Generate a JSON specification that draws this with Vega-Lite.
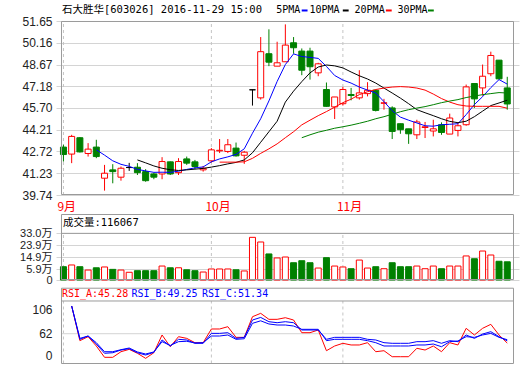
{
"$schema":"https://vega.github.io/schema/vega-lite/v6.json",
"autosize":{"type":"none"},
"padding":{"left":56,"top":21,"right":1,"bottom":1},
"width":463,"height":343,
"background":"#ffffff",
"config":{"view":{"stroke":null},"axis":{"labelFont":"Liberation Sans, Noto Sans CJK SC","labelFontSize":12,"labelColor":"#222222","domain":false,"ticks":false,"labelPadding":4,"title":null,"gridColor":"#d4d4d4","labelOverlap":false}},
"datasets":{
"k":[
{"i":1,"o":43.02,"h":43.18,"l":42.03,"c":42.51,"dir":"down","v":7.9},
{"i":2,"o":42.54,"h":43.86,"l":41.92,"c":43.75,"dir":"up","v":9.2,"ra":111.4,"rb":111.4,"rc":111.4},
{"i":3,"o":43.66,"h":43.70,"l":42.65,"c":42.69,"dir":"down","v":7.9,"ra":49.6,"rb":52.0,"rc":53.7},
{"i":4,"o":42.58,"h":43.29,"l":42.37,"c":42.88,"dir":"up","v":5.4,"ra":56.7,"rb":57.9,"rc":57.9},
{"i":5,"o":43.02,"h":43.52,"l":42.26,"c":42.37,"dir":"down","v":7.1,"m5":42.83,"ra":40.1,"rb":43.6,"rc":46.0},
{"i":6,"o":40.89,"h":41.80,"l":40.04,"c":41.23,"dir":"up","v":7.7,"m5":42.47,"ra":19.9,"rb":27.1,"rc":29.9},
{"i":7,"o":41.46,"h":41.85,"l":40.54,"c":41.34,"dir":"down","v":5.9,"m5":42.08,"ra":19.9,"rb":28.1,"rc":29.9},
{"i":8,"o":40.96,"h":41.69,"l":40.72,"c":41.57,"dir":"up","v":5.4,"m5":41.84,"ra":29.9,"rb":32.9,"rc":33.5},
{"i":9,"o":41.62,"h":41.94,"l":41.39,"c":41.62,"dir":"flat","v":3.7,"m5":41.70,"ra":34.1,"rb":35.3,"rc":36.5},
{"i":10,"o":41.64,"h":41.92,"l":41.11,"c":41.27,"dir":"down","v":4.9,"m5":41.49,"m10":42.14,"ra":27.1,"rb":28.1,"rc":29.5},
{"i":11,"o":41.34,"h":41.51,"l":40.65,"c":40.72,"dir":"down","v":4.9,"m5":41.39,"m10":41.94,"ra":18.1,"rb":24.0,"rc":25.8},
{"i":12,"o":41.18,"h":41.27,"l":40.82,"c":40.96,"dir":"down","v":4.9,"m5":41.29,"m10":41.73,"ra":28.1,"rb":28.8,"rc":29.5},
{"i":13,"o":41.18,"h":42.33,"l":40.82,"c":42.03,"dir":"up","v":8.4,"m5":41.30,"m10":41.57,"ra":59.7,"rb":50.8,"rc":47.8},
{"i":14,"o":42.01,"h":42.03,"l":41.11,"c":41.18,"dir":"down","v":7.1,"m5":41.29,"m10":41.47,"ra":38.8,"rb":40.1,"rc":41.0},
{"i":15,"o":41.27,"h":42.26,"l":41.11,"c":42.03,"dir":"up","v":7.1,"m5":41.37,"m10":41.42,"ra":56.7,"rb":52.0,"rc":47.8},
{"i":16,"o":42.21,"h":42.37,"l":41.80,"c":41.92,"dir":"down","v":5.6,"m5":41.49,"m10":41.46,"ra":53.7,"rb":50.8,"rc":48.5},
{"i":17,"o":42.01,"h":42.14,"l":41.51,"c":41.69,"dir":"down","v":4.9,"m5":41.60,"m10":41.51,"ra":46.0,"rb":44.9,"rc":45.5},
{"i":18,"o":41.46,"h":41.73,"l":41.34,"c":41.57,"dir":"up","v":3.9,"m5":41.66,"m10":41.56,"ra":46.0,"rb":44.9,"rc":46.0},
{"i":19,"o":42.08,"h":42.95,"l":41.96,"c":42.83,"dir":"up","v":6.2,"m5":42.01,"m10":41.65,"ra":70.4,"rb":62.6,"rc":57.9},
{"i":20,"o":42.76,"h":43.57,"l":42.61,"c":42.80,"dir":"up","v":6.2,"m5":42.21,"m10":41.75,"m20":41.99,"ra":70.4,"rb":62.6,"rc":57.9},
{"i":21,"o":42.72,"h":43.57,"l":42.61,"c":43.18,"dir":"up","v":6.2,"m5":42.35,"m10":41.87,"m20":41.99,"ra":74.5,"rb":63.8,"rc":59.7},
{"i":22,"o":42.95,"h":43.33,"l":42.37,"c":42.42,"dir":"down","v":5.6,"m5":42.52,"m10":41.97,"m20":41.99,"ra":55.5,"rb":53.7,"rc":52.0},
{"i":23,"o":42.46,"h":42.76,"l":41.87,"c":42.67,"dir":"up","v":4.7,"m5":42.90,"m10":42.14,"m20":42.01,"ra":55.5,"rb":55.5,"rc":53.0},
{"i":24,"o":46.94,"h":46.94,"l":45.86,"c":46.94,"dir":"flat","v":30.0,"m5":43.97,"m10":42.63,"m20":42.25,"ra":92.3,"rb":86.4,"rc":80.5},
{"i":25,"o":46.39,"h":50.55,"l":46.27,"c":49.55,"dir":"up","v":26.5,"m5":44.96,"m10":43.35,"m20":42.59,"ra":98.3,"rb":91.0,"rc":85.0},
{"i":26,"o":49.41,"h":51.08,"l":48.56,"c":48.83,"dir":"down","v":17.5,"m5":46.18,"m10":44.07,"m20":42.90,"ra":87.6,"rb":83.4,"rc":79.3},
{"i":27,"o":48.56,"h":50.23,"l":48.56,"c":48.79,"dir":"up","v":14.5,"m5":47.51,"m10":44.79,"m20":43.24,"ra":87.6,"rb":81.6,"rc":77.5},
{"i":28,"o":48.86,"h":51.42,"l":48.86,"c":50.00,"dir":"up","v":15.2,"m5":48.67,"m10":46.10,"m20":43.66,"ra":90.5,"rb":83.4,"rc":77.5},
{"i":29,"o":50.16,"h":50.55,"l":49.41,"c":49.82,"dir":"down","v":10.9,"m5":49.40,"m10":46.85,"m20":44.07,"ra":86.4,"rb":81.6,"rc":75.7},
{"i":30,"o":49.59,"h":49.77,"l":47.94,"c":48.28,"dir":"down","v":12.4,"m5":49.22,"m10":47.50,"m20":44.54,"m30":43.66,"ra":63.8,"rb":68.6,"rc":69.8},
{"i":31,"o":49.59,"h":49.82,"l":47.64,"c":48.52,"dir":"down","v":10.9,"m5":49.16,"m10":48.10,"m20":44.86,"m30":43.86,"ra":63.8,"rb":68.6,"rc":69.8},
{"i":32,"o":48.10,"h":48.79,"l":47.87,"c":48.72,"dir":"up","v":6.9,"m5":49.09,"m10":48.50,"m20":45.17,"m30":44.04,"ra":68.6,"rb":68.6,"rc":69.8},
{"i":33,"o":46.96,"h":47.44,"l":45.79,"c":45.81,"dir":"down","v":14.7,"m5":48.54,"m10":48.64,"m20":45.45,"m30":44.17,"ra":31.7,"rb":52.0,"rc":49.6},
{"i":34,"o":45.77,"h":46.45,"l":44.94,"c":46.45,"dir":"up","v":8.4,"m5":47.92,"m10":48.58,"m20":45.75,"m30":44.31,"ra":40.1,"rb":55.5,"rc":52.0},
{"i":35,"o":45.99,"h":47.14,"l":45.86,"c":46.96,"dir":"up","v":7.7,"m5":47.61,"m10":48.44,"m20":46.06,"m30":44.41,"ra":44.9,"rb":55.5,"rc":52.0},
{"i":36,"o":46.62,"h":47.07,"l":46.22,"c":46.55,"dir":"down","v":6.4,"m5":47.40,"m10":48.16,"m20":46.30,"m30":44.52,"ra":41.9,"rb":55.5,"rc":52.0},
{"i":37,"o":46.39,"h":48.28,"l":46.27,"c":46.73,"dir":"up","v":12.9,"m5":47.13,"m10":47.90,"m20":46.61,"m30":44.65,"ra":41.9,"rb":55.5,"rc":52.0},
{"i":38,"o":46.68,"h":47.46,"l":46.49,"c":46.91,"dir":"up","v":6.9,"m5":46.92,"m10":47.68,"m20":46.81,"m30":44.79,"ra":46.0,"rb":52.0,"rc":49.6},
{"i":39,"o":46.91,"h":46.96,"l":45.46,"c":45.53,"dir":"down","v":7.9,"m5":46.72,"m10":47.40,"m20":46.96,"m30":44.96,"ra":29.9,"rb":50.8,"rc":46.0},
{"i":40,"o":46.02,"h":46.32,"l":45.58,"c":46.05,"dir":"up","v":6.4,"m5":46.13,"m10":47.06,"m20":47.06,"m30":45.10,"ra":31.7,"rb":46.0,"rc":40.1},
{"i":41,"o":45.70,"h":45.81,"l":43.57,"c":44.09,"dir":"down","v":10.9,"m5":45.51,"m10":46.72,"m20":47.13,"m30":45.27,"ra":21.0,"rb":44.9,"rc":40.1},
{"i":42,"o":44.62,"h":44.62,"l":43.93,"c":44.21,"dir":"down","v":7.9,"m5":45.07,"m10":46.37,"m20":47.16,"m30":45.44,"ra":21.0,"rb":44.9,"rc":40.1},
{"i":43,"o":44.27,"h":44.27,"l":43.24,"c":43.93,"dir":"down","v":7.9,"m5":44.86,"m10":45.99,"m20":47.13,"m30":45.58,"ra":21.0,"rb":44.9,"rc":40.1},
{"i":44,"o":43.86,"h":44.89,"l":43.57,"c":44.74,"dir":"up","v":8.4,"m5":44.67,"m10":45.58,"m20":47.06,"m30":45.69,"ra":36.0,"rb":47.8,"rc":41.9},
{"i":45,"o":44.36,"h":44.74,"l":43.64,"c":44.41,"dir":"up","v":6.4,"m5":44.48,"m10":45.37,"m20":46.92,"m30":45.79,"ra":32.9,"rb":47.8,"rc":41.9},
{"i":46,"o":44.12,"h":44.89,"l":43.75,"c":44.27,"dir":"up","v":8.4,"m5":44.45,"m10":45.17,"m20":46.65,"m30":45.92,"ra":40.1,"rb":49.6,"rc":43.6},
{"i":47,"o":44.55,"h":44.71,"l":43.86,"c":44.02,"dir":"down","v":6.4,"m5":44.55,"m10":44.96,"m20":46.34,"m30":46.06,"ra":29.9,"rb":44.9,"rc":38.8},
{"i":48,"o":43.91,"h":45.31,"l":43.91,"c":45.01,"dir":"up","v":8.4,"m5":44.58,"m10":44.78,"m20":46.10,"m30":46.17,"ra":46.0,"rb":49.6,"rc":47.8},
{"i":49,"o":44.16,"h":44.71,"l":43.75,"c":44.48,"dir":"up","v":8.4,"m5":44.62,"m10":44.69,"m20":45.92,"m30":46.27,"ra":41.9,"rb":47.8,"rc":49.0},
{"i":50,"o":44.55,"h":47.30,"l":44.48,"c":47.14,"dir":"up","v":16.0,"m5":45.24,"m10":44.79,"m20":45.83,"m30":46.41,"ra":71.6,"rb":59.7,"rc":56.7},
{"i":51,"o":47.37,"h":47.37,"l":45.70,"c":46.32,"dir":"down","v":13.9,"m5":45.93,"m10":45.10,"m20":45.81,"m30":46.51,"ra":59.7,"rb":53.7,"rc":55.5},
{"i":52,"o":47.07,"h":48.67,"l":46.54,"c":47.87,"dir":"up","v":19.7,"m5":46.47,"m10":45.48,"m20":45.81,"m30":46.61,"ra":71.6,"rb":61.4,"rc":59.7},
{"i":53,"o":48.04,"h":49.55,"l":47.87,"c":49.29,"dir":"up","v":16.7,"m5":47.09,"m10":45.86,"m20":45.81,"m30":46.68,"ra":78.7,"rb":65.6,"rc":62.6},
{"i":54,"o":48.97,"h":48.97,"l":47.64,"c":47.69,"dir":"down","v":12.0,"m5":47.64,"m10":46.04,"m20":45.81,"m30":46.75,"ra":59.7,"rb":56.7,"rc":55.5},
{"i":55,"o":47.07,"h":47.83,"l":45.58,"c":45.97,"dir":"down","v":11.6,"m5":47.33,"m10":46.23,"m20":45.68,"m30":46.72,"ra":45.28,"rb":49.25,"rc":51.34}
],
"mon":[{"i":1,"m":"9月"},{"i":19,"m":"10月"},{"i":35,"m":"11月"}],
"one":[{"n":1}]
},
"data":{"name":"k"},
"resolve":{"scale":{"y":"independent"},"axis":{"y":"independent"}},
"layer":[
{"layer":[
 {"data":{"name":"mon"},"mark":{"type":"rule","color":"#c4c4c4","strokeDash":[3,3],"strokeWidth":1},
  "encoding":{"x":{"field":"i","type":"quantitative","scale":{"domain":[0.702,55.82],"nice":false,"zero":false},"axis":null},
   "y":{"datum":39.74,"type":"quantitative","scale":{"domain":[39.74,51.65],"range":[174,0],"nice":false,"zero":false},"axis":{"orient":"left","values":[39.74,41.23,42.72,44.21,45.70,47.18,48.67,50.16,51.65],"format":".2f","grid":true}},"y2":{"datum":51.65}}},
 {"mark":{"type":"rule","strokeWidth":1},"encoding":{"x":{"field":"i","type":"quantitative","scale":{"domain":[0.702,55.82],"nice":false,"zero":false},"axis":null},"y":{"field":"l","type":"quantitative"},"y2":{"field":"h"},"color":{"condition":[{"test":"datum.dir==='up'","value":"#ff0000"},{"test":"datum.dir==='down'","value":"#008000"}],"value":"#000000"}}},
 {"mark":{"type":"bar","orient":"vertical","width":6,"strokeWidth":1},"encoding":{"x":{"field":"i","type":"quantitative","scale":{"domain":[0.702,55.82],"nice":false,"zero":false},"axis":null},"y":{"field":"o","type":"quantitative"},"y2":{"field":"c"},
  "stroke":{"condition":[{"test":"datum.dir==='up'","value":"#ff0000"},{"test":"datum.dir==='down'","value":"#008000"}],"value":"#000000"},
  "fill":{"condition":[{"test":"datum.dir==='up'","value":"#ffffff"},{"test":"datum.dir==='down'","value":"#008000"}],"value":"#000000"}}},
 {"mark":{"type":"line","color":"#0000ff","strokeWidth":1},"encoding":{"x":{"field":"i","type":"quantitative","axis":null},"y":{"field":"m5","type":"quantitative"}}},
 {"mark":{"type":"line","color":"#000000","strokeWidth":1},"encoding":{"x":{"field":"i","type":"quantitative","axis":null},"y":{"field":"m10","type":"quantitative"}}},
 {"mark":{"type":"line","color":"#ff0000","strokeWidth":1},"encoding":{"x":{"field":"i","type":"quantitative","axis":null},"y":{"field":"m20","type":"quantitative"}}},
 {"mark":{"type":"line","color":"#008000","strokeWidth":1},"encoding":{"x":{"field":"i","type":"quantitative","axis":null},"y":{"field":"m30","type":"quantitative"}}},
 {"data":{"name":"one"},"mark":{"type":"rect","fillOpacity":0,"stroke":"#9a9a9a","strokeWidth":1},"encoding":{"x":{"datum":0.762,"type":"quantitative","axis":null},"x2":{"datum":55.76},"y":{"datum":39.774,"type":"quantitative"},"y2":{"datum":51.616}}},
 {"data":{"name":"mon"},"mark":{"type":"text","align":"left","dx":-6,"baseline":"middle","color":"#ff0000","font":"Noto Sans CJK SC","fontSize":12},"encoding":{"x":{"field":"i","type":"quantitative","axis":null},"y":{"datum":38.92,"type":"quantitative"},"text":{"field":"m"}}},
 {"data":{"name":"one"},"mark":{"type":"text","text":"石大胜华[603026] 2016-11-29 15:00","align":"left","baseline":"middle","font":"DejaVu Sans Mono, Noto Sans CJK SC","fontSize":10.5,"color":"#000000"},"encoding":{"x":{"datum":0.82,"type":"quantitative","axis":null},"y":{"datum":52.40,"type":"quantitative"}}},
 {"data":{"name":"one"},"mark":{"type":"text","text":"5PMA","align":"left","baseline":"middle","font":"DejaVu Sans Mono","fontSize":10,"color":"#000000"},"encoding":{"x":{"datum":26.89,"type":"quantitative","axis":null},"y":{"datum":52.40,"type":"quantitative"}}},
 {"data":{"name":"one"},"mark":{"type":"rule","color":"#0000ff","strokeWidth":2},"encoding":{"x":{"datum":29.99,"type":"quantitative","axis":null},"x2":{"datum":30.70},"y":{"datum":52.37,"type":"quantitative"}}},
 {"data":{"name":"one"},"mark":{"type":"text","text":"10PMA","align":"left","baseline":"middle","font":"DejaVu Sans Mono","fontSize":10,"color":"#000000"},"encoding":{"x":{"datum":30.94,"type":"quantitative","axis":null},"y":{"datum":52.40,"type":"quantitative"}}},
 {"data":{"name":"one"},"mark":{"type":"rule","color":"#000000","strokeWidth":2},"encoding":{"x":{"datum":34.99,"type":"quantitative","axis":null},"x2":{"datum":35.70},"y":{"datum":52.37,"type":"quantitative"}}},
 {"data":{"name":"one"},"mark":{"type":"text","text":"20PMA","align":"left","baseline":"middle","font":"DejaVu Sans Mono","fontSize":10,"color":"#000000"},"encoding":{"x":{"datum":36.42,"type":"quantitative","axis":null},"y":{"datum":52.40,"type":"quantitative"}}},
 {"data":{"name":"one"},"mark":{"type":"rule","color":"#ff0000","strokeWidth":2},"encoding":{"x":{"datum":40.23,"type":"quantitative","axis":null},"x2":{"datum":40.94},"y":{"datum":52.37,"type":"quantitative"}}},
 {"data":{"name":"one"},"mark":{"type":"text","text":"30PMA","align":"left","baseline":"middle","font":"DejaVu Sans Mono","fontSize":10,"color":"#000000"},"encoding":{"x":{"datum":41.65,"type":"quantitative","axis":null},"y":{"datum":52.40,"type":"quantitative"}}},
 {"data":{"name":"one"},"mark":{"type":"rule","color":"#008000","strokeWidth":2},"encoding":{"x":{"datum":45.35,"type":"quantitative","axis":null},"x2":{"datum":46.06},"y":{"datum":52.37,"type":"quantitative"}}}
]},
{"layer":[
 {"data":{"name":"mon"},"mark":{"type":"rule","color":"#c4c4c4","strokeDash":[3,3],"strokeWidth":1},
  "encoding":{"x":{"field":"i","type":"quantitative","axis":null},"y":{"datum":-2.1,"type":"quantitative","scale":{"domain":[-2.1,47.56],"range":[259,193],"nice":false,"zero":false},"axis":{"orient":"left","values":[-2.1,5.9,14.9,23.9,33.0],"labelExpr":"datum.value < 0 ? '0' : format(datum.value, '.1f') + '万'","grid":true,"labelFontSize":11}},"y2":{"datum":33.0}}},
 {"mark":{"type":"bar","orient":"vertical","width":6,"strokeWidth":1},"encoding":{"x":{"field":"i","type":"quantitative","axis":null},"y":{"field":"v","type":"quantitative"},"y2":{"datum":-2.1},
  "stroke":{"condition":{"test":"datum.dir==='down'","value":"#008000"},"value":"#ff0000"},
  "fill":{"condition":{"test":"datum.dir==='down'","value":"#008000"},"value":"#ffffff"}}},
 {"data":{"name":"one"},"mark":{"type":"rule","color":"#9a9a9a","strokeWidth":1},"encoding":{"x":{"datum":0.762,"type":"quantitative","axis":null},"x2":{"datum":55.76},"y":{"datum":33.0,"type":"quantitative"}}},
 {"data":{"name":"one"},"mark":{"type":"rect","fillOpacity":0,"stroke":"#9a9a9a","strokeWidth":1},"encoding":{"x":{"datum":0.762,"type":"quantitative","axis":null},"x2":{"datum":55.76},"y":{"datum":-1.72,"type":"quantitative"},"y2":{"datum":47.18}}},
 {"data":{"name":"one"},"mark":{"type":"text","text":"成交量:116067","align":"left","baseline":"middle","font":"DejaVu Sans Mono, Noto Sans CJK SC","fontSize":10.5,"color":"#000000"},"encoding":{"x":{"datum":0.94,"type":"quantitative","axis":null},"y":{"datum":40.8,"type":"quantitative"}}}
]},
{"layer":[
 {"data":{"name":"mon"},"mark":{"type":"rule","color":"#c4c4c4","strokeDash":[3,3],"strokeWidth":1},
  "encoding":{"x":{"field":"i","type":"quantitative","axis":null},"y":{"datum":8.9,"type":"quantitative","scale":{"domain":[8,144],"range":[343,266.7],"nice":false,"zero":false},"axis":{"orient":"left","values":[22.8,62,106],"labelExpr":"datum.value < 30 ? '0' : format(datum.value, 'd')","grid":false}},"y2":{"datum":120.3}}},
 {"data":{"name":"one"},"mark":{"type":"rule","color":"#d4d4d4","strokeWidth":1},"encoding":{"x":{"datum":0.762,"type":"quantitative","axis":null},"x2":{"datum":55.76},"y":{"datum":62,"type":"quantitative"}}},
 {"mark":{"type":"line","color":"#ff0000","strokeWidth":1},"encoding":{"x":{"field":"i","type":"quantitative","axis":null},"y":{"field":"ra","type":"quantitative"}}},
 {"mark":{"type":"line","color":"#0000ff","strokeWidth":1},"encoding":{"x":{"field":"i","type":"quantitative","axis":null},"y":{"field":"rb","type":"quantitative"}}},
 {"mark":{"type":"line","color":"#0000ff","strokeWidth":1},"encoding":{"x":{"field":"i","type":"quantitative","axis":null},"y":{"field":"rc","type":"quantitative"}}},
 {"data":{"name":"one"},"mark":{"type":"rule","color":"#9a9a9a","strokeWidth":1},"encoding":{"x":{"datum":0.762,"type":"quantitative","axis":null},"x2":{"datum":55.76},"y":{"datum":120.3,"type":"quantitative"}}},
 {"data":{"name":"one"},"mark":{"type":"rect","fillOpacity":0,"stroke":"#9a9a9a","strokeWidth":1},"encoding":{"x":{"datum":0.762,"type":"quantitative","axis":null},"x2":{"datum":55.76},"y":{"datum":8.89,"type":"quantitative"},"y2":{"datum":143.1}}},
 {"data":{"name":"one"},"mark":{"type":"text","text":"RSI_A:45.28","align":"left","baseline":"middle","font":"DejaVu Sans Mono","fontSize":10,"color":"#ff0000"},"encoding":{"x":{"datum":0.82,"type":"quantitative","axis":null},"y":{"datum":131.9,"type":"quantitative"}}},
 {"data":{"name":"one"},"mark":{"type":"text","text":"RSI_B:49.25","align":"left","baseline":"middle","font":"DejaVu Sans Mono","fontSize":10,"color":"#0000ff"},"encoding":{"x":{"datum":9.27,"type":"quantitative","axis":null},"y":{"datum":131.9,"type":"quantitative"}}},
 {"data":{"name":"one"},"mark":{"type":"text","text":"RSI_C:51.34","align":"left","baseline":"middle","font":"DejaVu Sans Mono","fontSize":10,"color":"#0000ff"},"encoding":{"x":{"datum":17.85,"type":"quantitative","axis":null},"y":{"datum":131.9,"type":"quantitative"}}}
]}
]
}
